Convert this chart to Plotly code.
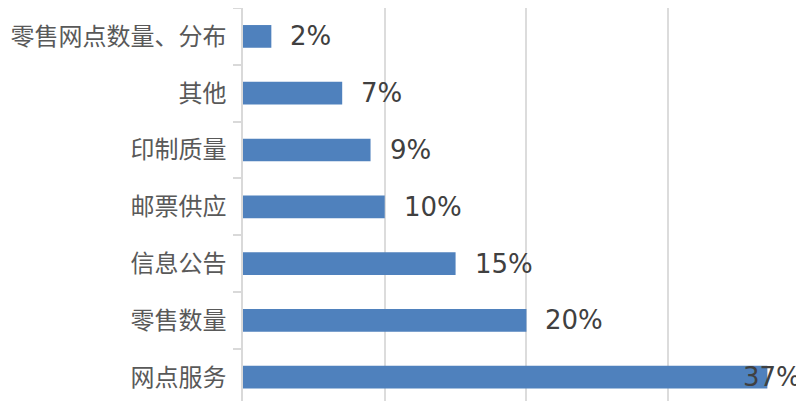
import plotly.graph_objects as go

categories = ["网点服务", "零售数量", "信息公告", "邮票供应", "印制质量", "其他", "零售网点数量、分布"]
values = [0.37, 0.20, 0.15, 0.10, 0.09, 0.07, 0.02]
labels = ["37%", "20%", "15%", "10%", "9%", "7%", "2%"]

fig = go.Figure()
fig.add_trace(go.Bar(
    y=categories, x=values, orientation="h",
    marker=dict(color="#4f81bd", line=dict(width=0)),
    width=0.4, hoverinfo="skip",
))

vmax = max(values)
for c, v, t in zip(categories, values, labels):
    if v == vmax:
        fig.add_annotation(x=v, y=c, text=t, showarrow=False, xanchor="right", xshift=36,
                           font=dict(family="DejaVu Sans", size=26, color="#404040"))
    else:
        fig.add_annotation(x=v, y=c, text=t, showarrow=False, xanchor="left", xshift=17,
                           font=dict(family="DejaVu Sans", size=26, color="#404040"))

fig.update_layout(
    width=804, height=401,
    margin=dict(l=235, r=0, t=0, b=0),
    paper_bgcolor="white", plot_bgcolor="white",
    showlegend=False,
    xaxis=dict(range=[0, 0.4015], dtick=0.1, showgrid=True, gridcolor="#dcdcdc", gridwidth=1.5,
               showticklabels=False, zeroline=False, showline=False, ticks=""),
    yaxis=dict(type="category", range=[-0.56, 6.5], showline=True, linecolor="#d9d9d9", linewidth=1.5,
               ticks="outside", ticklen=8, tickcolor="#d9d9d9", tickwidth=1.5, tickson="boundaries",
               showgrid=False, ticklabelstandoff=10,
               tickfont=dict(family="Noto Sans CJK SC", size=24, color="#595959")),
)

fig.write_html("out.html")
